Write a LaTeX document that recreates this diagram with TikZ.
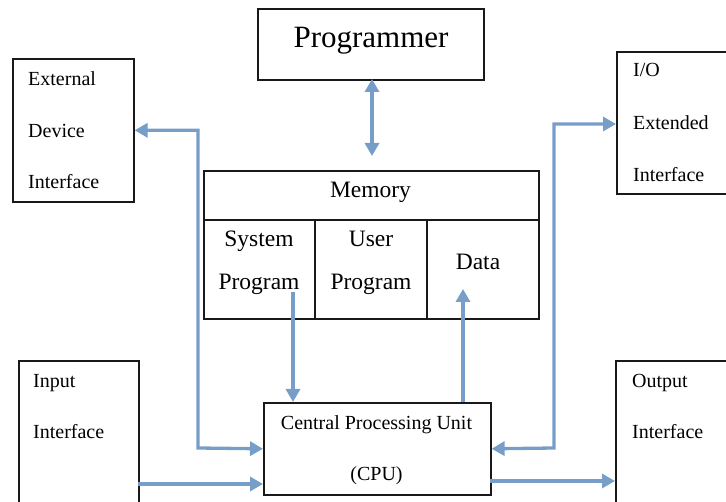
\documentclass[tikz,border=0pt]{standalone}
\usepackage{fontspec}
\setmainfont{Liberation Serif}
\usetikzlibrary{arrows.meta,calc}
\definecolor{arrblue}{RGB}{118,158,200}
\definecolor{boxline}{RGB}{25,25,25}
\tikzset{
  box/.style={draw=boxline,line width=1.6pt,rectangle,inner sep=0pt,anchor=north west},
  lbl/.style={inner sep=0pt,anchor=base west,font=\fontsize{20}{24}\selectfont},
  mlbl/.style={inner sep=0pt,anchor=base,font=\fontsize{23.5}{28}\selectfont},
  clbl/.style={inner sep=0pt,anchor=base,font=\fontsize{20}{24}\selectfont},
  conn/.style={draw=arrblue,line width=3.3pt,arrows={-Triangle[length=13pt,width=14pt]}},
  conn2/.style={draw=arrblue,line width=3.3pt,arrows={Triangle[length=13pt,width=14pt]-Triangle[length=13pt,width=14pt]}}
}
\begin{document}
\begin{tikzpicture}[x=1pt,y=-1pt]
\useasboundingbox (0,0) rectangle (726,502);
% boxes
\node[box,minimum width=226pt,minimum height=71pt] (prog) at (257,8) {};
\node[box,minimum width=335pt,minimum height=148pt] (mem) at (203,170) {};
\node[box,minimum width=227pt,minimum height=92pt] (cpu) at (263,402) {};
\node[box,minimum width=121pt,minimum height=143pt] (ext) at (12,58) {};
\node[box,minimum width=150pt,minimum height=142pt] (io) at (616,51) {};
\node[box,minimum width=120pt,minimum height=170pt] (inp) at (18,360) {};
\node[box,minimum width=170pt,minimum height=170pt] (out) at (615,360) {};
% memory partitions
\coordinate (mdl) at (203,220);
\coordinate (mdr) at (538,220);
\coordinate (c1t) at (315,220);
\coordinate (c2t) at (427,220);
\draw[boxline,line width=1.6pt] (mdl) -- (mdr);
\draw[boxline,line width=1.6pt] (c1t) -- (c1t |- mem.south);
\draw[boxline,line width=1.6pt] (c2t) -- (c2t |- mem.south);
% texts
\node[inner sep=0pt,anchor=base,font=\fontsize{31}{35}\selectfont] (tprog) at (371,48) {Programmer};
\node[mlbl] (tmem) at (370.5,198) {Memory};
\node[mlbl] (tsys1) at (259,247) {System};
\node[mlbl] (tsys2) at (259,290) {Program};
\node[mlbl] (tusr1) at (371,247) {User};
\node[mlbl] (tusr2) at (371,290) {Program};
\node[mlbl] (tdata) at (478,270) {Data};
\node[clbl] (tcpu1) at (376.5,430) {Central Processing Unit};
\node[clbl] (tcpu2) at (376.5,481) {(CPU)};
\node[lbl] (te1) at (28,86) {External};
\node[lbl] (te2) at (28,138) {Device};
\node[lbl] (te3) at (28,189) {Interface};
\node[lbl] (ti1) at (633,77) {I/O};
\node[lbl] (ti2) at (633,130) {Extended};
\node[lbl] (ti3) at (633,182) {Interface};
\node[lbl] (tin1) at (33,388) {Input};
\node[lbl] (tin2) at (33,439) {Interface};
\node[lbl] (tout1) at (632,388) {Output};
\node[lbl] (tout2) at (632,439) {Interface};
% connectors
\coordinate (pa) at (372,79);
\coordinate (pb) at (372,156);
\draw[conn2] (pa) -- (pb);
\coordinate (sp) at (293,292);
\draw[conn] (sp) -- (sp |- cpu.north);
\coordinate (dp) at (463,289);
\draw[conn] (dp |- cpu.north) -- (dp);
\coordinate (eb) at (198,448);
\draw[conn2] (ext.east) -| (eb) -- (cpu.west);
\coordinate (ib) at (554,448);
\coordinate (it) at (554,124);
\draw[conn2] (it -| io.west) -- (it) -- (ib) -- (cpu.east);
\coordinate (ia) at (138,484);
\draw[conn] (ia) -- (ia -| cpu.west);
\coordinate (oa) at (490,481);
\draw[conn] (oa) -- (oa -| out.west);
\end{tikzpicture}
\end{document}
